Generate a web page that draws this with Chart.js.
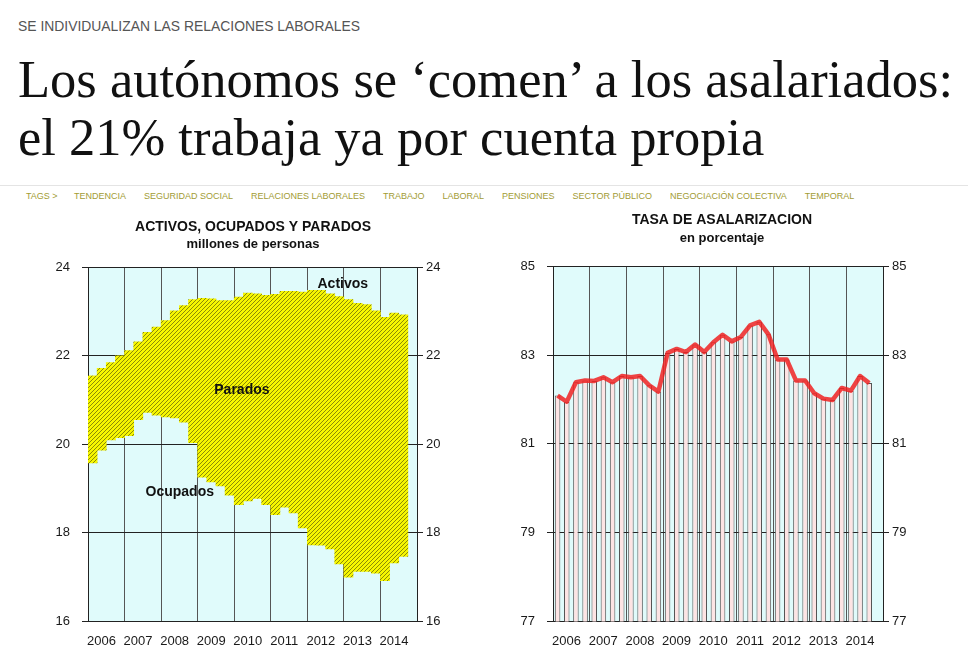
<!DOCTYPE html>
<html lang="es">
<head>
<meta charset="utf-8">
<title>Los autónomos se ‘comen’ a los asalariados</title>
<script src="https://cdn.jsdelivr.net/npm/chart.js@4/dist/chart.umd.min.js"></script>
<style>
  body { margin: 0; background: #fff; width: 968px; height: 667px; position: relative; overflow: hidden; }
  #kicker { position: absolute; left: 18px; top: 18px; font: 13.9px "Liberation Sans", Arial, sans-serif; color: #555; }
  h1 { position: absolute; left: 18px; top: 50px; margin: 0; font: normal 52.5px/58px "Liberation Serif", "Times New Roman", serif; color: #111; white-space: nowrap; }
  #rule { position: absolute; left: 0; top: 185px; width: 968px; height: 1px; background: #e4e4e4; }
  #tags { position: absolute; left: 26px; top: 191px; font: 9px "Liberation Sans", Arial, sans-serif; color: #a29c34; white-space: nowrap; }
  #tags span { margin-right: 18px; }
  #tags span.first { margin-right: 14px; }
  .box { position: absolute; top: 200px; }
</style>
</head>
<body>
<div id="kicker">SE INDIVIDUALIZAN LAS RELACIONES LABORALES</div>
<h1>Los autónomos se ‘comen’ a los asalariados:<br>el 21% trabaja ya por cuenta propia</h1>
<div id="rule"></div>
<div id="tags"><span class="first">TAGS &gt;</span> <span>TENDENCIA</span><span>SEGURIDAD SOCIAL</span><span>RELACIONES LABORALES</span><span>TRABAJO</span><span>LABORAL</span><span>PENSIONES</span><span>SECTOR PÚBLICO</span><span>NEGOCIACIÓN COLECTIVA</span><span>TEMPORAL</span></div>

<div class="box" style="left:40px"><canvas id="chartLeft" width="426" height="473"></canvas></div>
<div class="box" style="left:505px"><canvas id="chartRight" width="434" height="473"></canvas></div>

<script>
// años del eje x y datos trimestrales 2006T1 - 2014T3
const years = ['2006', '2007', '2008', '2009', '2010', '2011', '2012', '2013', '2014'];

// millones de personas
const activos = [21.55, 21.72, 21.85, 22.0, 22.12, 22.32, 22.53, 22.65, 22.8, 23.02, 23.14, 23.27,
    23.3, 23.29, 23.25, 23.25, 23.33, 23.42, 23.4, 23.37, 23.39, 23.46, 23.46, 23.44,
    23.48, 23.48, 23.4, 23.34, 23.27, 23.19, 23.16, 23.02, 22.87, 22.97, 22.93];
const ocupados = [19.58, 19.87, 20.1, 20.15, 20.2, 20.56, 20.72, 20.66, 20.62, 20.6, 20.5, 20.04,
    19.26, 19.15, 19.06, 18.85, 18.64, 18.72, 18.78, 18.64, 18.41, 18.58, 18.45, 18.11,
    17.73, 17.72, 17.64, 17.3, 17.0, 17.13, 17.13, 17.09, 16.92, 17.32, 17.47];

// tasa de asalarización, %
const asalarizacion = [82.09, 81.95, 82.39, 82.43, 82.42, 82.5, 82.39, 82.53, 82.5, 82.53, 82.32, 82.18,
    83.05, 83.14, 83.07, 83.24, 83.07, 83.29, 83.46, 83.31, 83.41, 83.67, 83.75, 83.47,
    82.9, 82.9, 82.43, 82.43, 82.14, 82.02, 81.99, 82.26, 82.2, 82.53, 82.37];

const leftTicks = [16, 18, 20, 22, 24];
const rightTicks = [77, 79, 81, 83, 85];

// posición de cada trimestre en el eje (centro del trimestre)
const quarterX = activos.map((_, i) => +years[0] + Math.floor(i / 4) + (i % 4 + 0.5) / 4);

const FONT = '"Liberation Sans", Arial, sans-serif';
const PLOT_BG = '#e0fbfb';

function makeHatch() {
    const c = document.createElement('canvas');
    c.width = 4; c.height = 4;
    const g = c.getContext('2d');
    g.fillStyle = '#f6f600';
    g.fillRect(0, 0, 4, 4);
    g.strokeStyle = '#5c5c08';
    g.lineWidth = 0.7;
    g.beginPath();
    g.moveTo(0, 4); g.lineTo(4, 0);
    g.moveTo(-1, 1); g.lineTo(1, -1);
    g.moveTo(3, 5); g.lineTo(5, 3);
    g.stroke();
    return g.createPattern(c, 'repeat');
}

const plotBackground = {
    id: 'plotBackground',
    beforeDraw(chart) {
        const { ctx, chartArea: a } = chart;
        ctx.save();
        ctx.fillStyle = PLOT_BG;
        ctx.fillRect(a.left, a.top, a.width, a.height);
        ctx.restore();
    }
};

const areaLabels = {
    id: 'areaLabels',
    afterDatasetsDraw(chart, args, opts) {
        if (!opts.items) return;
        const { ctx, scales } = chart;
        ctx.save();
        ctx.font = 'bold 14px ' + FONT;
        ctx.fillStyle = '#111';
        ctx.textAlign = 'center';
        ctx.textBaseline = 'middle';
        opts.items.forEach(it => {
            ctx.fillText(it.text, scales.x.getPixelForValue(it.x), scales.y.getPixelForValue(it.y));
        });
        ctx.restore();
    }
};

function commonScales(minV, maxV, tickValues, leftW, rightW) {
    const tickFont = { family: FONT, size: 13 };
    return {
        x: {
            type: 'linear', min: 2006, max: 2015, offset: false,
            ticks: { display: false, stepSize: 1 },
            grid: { color: '#555', drawTicks: false, offset: false },
            border: { color: '#222' }
        },
        xl: {
            type: 'linear', position: 'bottom', min: 2006, max: 2015, offset: false,
            grid: { display: false, drawTicks: false },
            border: { display: false },
            afterBuildTicks: s => { s.ticks = years.map(y => ({ value: +y + 0.37 })); },
            ticks: {
                autoSkip: false, maxRotation: 0, padding: 12, color: '#1a1a1a', font: tickFont,
                callback: v => String(Math.floor(v))
            }
        },
        y: {
            min: minV, max: maxV,
            afterBuildTicks: s => { s.ticks = tickValues.map(v => ({ value: v })); },
            afterFit: s => { s.width = leftW; },
            ticks: { padding: 12, color: '#1a1a1a', font: tickFont },
            grid: { color: '#222', tickLength: 6 },
            border: { color: '#222' }
        },
        y2: {
            position: 'right', min: minV, max: maxV,
            afterBuildTicks: s => { s.ticks = tickValues.map(v => ({ value: v })); },
            afterFit: s => { s.width = rightW; },
            ticks: { padding: 3, color: '#1a1a1a', font: tickFont },
            grid: { drawOnChartArea: false, color: '#222', tickLength: 6 },
            border: { color: '#222' }
        }
    };
}

function titleOpts(text, sub, padTop, padMid, padBottom) {
    return {
        legend: { display: false },
        tooltip: { enabled: false },
        title: { display: true, text: text, color: '#111', font: { family: FONT, size: 14, weight: 'bold' }, padding: { top: padTop, bottom: 0 } },
        subtitle: { display: true, text: sub, color: '#111', font: { family: FONT, size: 13, weight: 'bold' }, padding: { top: padMid, bottom: padBottom } }
    };
}

function drawLeft() {
    const plugins = titleOpts('ACTIVOS, OCUPADOS Y PARADOS', 'millones de personas', 19, 1, 15);
    plugins.areaLabels = {
        items: [
            { text: 'Activos', x: 2012.97, y: 23.62 },
            { text: 'Parados', x: 2010.21, y: 21.23 },
            { text: 'Ocupados', x: 2008.51, y: 18.92 }
        ]
    };
    new Chart(document.getElementById('chartLeft'), {
        type: 'bar',
        data: {
            datasets: [{
                data: quarterX.map((x, i) => ({ x: x, y: [ocupados[i], activos[i]] })),
                backgroundColor: makeHatch(),
                borderWidth: 0,
                barPercentage: 1,
                categoryPercentage: 1
            }]
        },
        options: {
            responsive: false,
            animation: false,
            layout: { padding: { bottom: 12 } },
            plugins: plugins,
            scales: commonScales(16, 24, leftTicks, 48, 49)
        },
        plugins: [plotBackground, areaLabels]
    });
}

function drawRight() {
    new Chart(document.getElementById('chartRight'), {
        type: 'bar',
        data: {
            datasets: [{
                type: 'line',
                data: quarterX.map((x, i) => ({ x: x, y: asalarizacion[i] })),
                borderColor: 'rgba(240, 34, 34, 0.85)',
                borderWidth: 4.5,
                pointRadius: 0,
                tension: 0,
                borderJoinStyle: 'round',
                order: 0
            }, {
                type: 'bar',
                data: quarterX.map((x, i) => ({ x: x, y: asalarizacion[i] })),
                backgroundColor: '#fde4e4',
                borderColor: '#555',
                borderWidth: 1,
                barPercentage: 0.6,
                categoryPercentage: 1,
                order: 1
            }]
        },
        options: {
            responsive: false,
            animation: false,
            layout: { padding: { bottom: 12 } },
            plugins: titleOpts('TASA DE ASALARIZACION', 'en porcentaje', 12, 2, 20),
            scales: commonScales(77, 85, rightTicks, 48, 56)
        },
        plugins: [plotBackground]
    });
}

document.addEventListener('DOMContentLoaded', () => {
    drawLeft();
    drawRight();
});
</script>
</body>
</html>
